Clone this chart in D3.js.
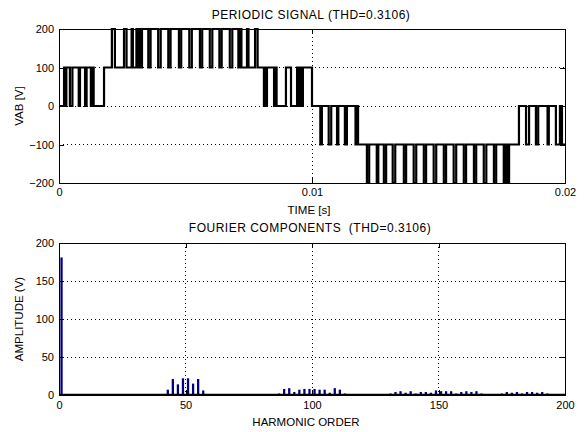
<!DOCTYPE html>
<html>
<head>
<meta charset="utf-8">
<script src="https://cdn.jsdelivr.net/npm/d3@7"></script>
<style>
  body { margin: 0; background: #fff; }
  svg text { font-family: "Liberation Sans", Arial, sans-serif; fill: #000; }
</style>
</head>
<body>
<svg id="chart" width="586" height="432"></svg>
<script>
// switching instants of the inverter output (ms) and the level taken at each one
const switchTimes = [
  0.00, 0.20, 0.25, 0.29, 0.43, 0.53, 0.78, 0.83, 1.03, 1.09, 1.26, 1.32, 1.37, 1.78,
  2.09, 2.21, 2.57, 2.67, 2.87, 2.92, 3.06, 3.12, 3.16, 3.24, 3.28, 3.53, 3.62, 3.92,
  4.02, 4.32, 4.41, 4.74, 4.83, 5.15, 5.25, 5.57, 5.66, 5.96, 6.06, 6.34, 6.43, 6.75,
  6.85, 7.09, 7.15, 7.21, 7.43, 7.49, 7.75, 7.85, 8.10, 8.14, 8.18, 8.22, 8.50, 8.56,
  8.60, 8.97, 9.17, 9.41, 9.47, 9.53, 9.58, 9.64, 10.00, 10.33, 10.39, 10.66, 10.76,
  10.99, 11.04, 11.30, 11.38, 11.72, 11.77, 11.82, 12.17, 12.26, 12.56, 12.62, 12.84,
  12.93, 13.19, 13.29, 13.63, 13.72, 14.02, 14.12, 14.42, 14.51, 14.81, 14.91, 15.21,
  15.30, 15.60, 15.70, 16.00, 16.09, 16.40, 16.49, 16.79, 16.89, 17.19, 17.28, 17.58,
  17.65, 17.71, 17.79, 18.18, 18.46, 18.58, 18.85, 18.94, 19.31, 19.36, 19.64, 19.80,
  19.88, 20.00
]
const switchLevels = [
  0, 100, 0, 100, 0, 100, 0, 100, 0, 100, 0, 100, 0, 100,
  200, 100, 200, 100, 200, 100, 200, 100, 200, 100, 200, 100, 200, 100,
  200, 100, 200, 100, 200, 100, 200, 100, 200, 100, 200, 100, 200, 100,
  200, 100, 200, 100, 200, 100, 200, 100, 0, 100, 0, 100, 0, 100,
  0, 100, 0, 100, 0, 100, 0, 100, 0, -100, 0, -100, 0,
  -100, 0, -100, 0, -100, 0, -100, -200, -100, -200, -100, -200,
  -100, -200, -100, -200, -100, -200, -100, -200, -100, -200, -100, -200,
  -100, -200, -100, -200, -100, -200, -100, -200, -100, -200, -100, -200,
  -100, -200, -100, 0, -100, 0, -100, 0, -100, 0, -100, 0,
  -100, -100
]

// fourier spectrum
const harmonicOrders = [
  1, 43, 45, 47, 49, 51, 53, 55, 57,
  87, 89, 91, 93, 95, 97, 99, 101, 103, 105, 107, 109, 111, 113,
  131, 133, 135, 137, 139, 141, 143, 145, 147, 149, 151, 153, 155, 157, 159, 161, 163, 165, 167,
  175, 177, 179, 181, 183, 185, 187, 189, 191, 193
]
const harmonicAmps = [
  181, 7, 21, 14, 22, 22, 15, 21, 6,
  2, 8, 9, 4, 7, 8, 8, 8, 7, 7, 3, 9, 7, 2,
  2, 4, 5, 3, 5, 2, 4, 4, 3, 6, 5, 5, 5, 2, 4, 5, 4, 5, 2,
  2, 4, 3, 4, 2, 4, 4, 3, 4, 2
]

const timeTicks = [0, 0.01, 0.02]
const voltTicks = [-200, -100, 0, 100, 200]
const orderTicks = [0, 50, 100, 150, 200]
const ampTicks = [0, 50, 100, 150, 200]

const svg = d3.select('#chart')
const left = 59
const right = 565

// dotted grid on the inner ticks
function grid (g, x, y, xt, yt, top, bottom) {
  const gr = g.append('g')
  xt.slice(1, -1).forEach(function (t) {
    gr.append('line').attr('x1', x(t)).attr('x2', x(t)).attr('y1', top).attr('y2', bottom)
  })
  yt.slice(1, -1).forEach(function (t) {
    gr.append('line').attr('x1', left).attr('x2', right).attr('y1', y(t)).attr('y2', y(t))
  })
  gr.selectAll('line').attr('stroke', '#000').attr('stroke-width', 1)
    .attr('stroke-dasharray', '1,3').attr('shape-rendering', 'crispEdges')
}

// box with inward ticks on all four sides
function axes (g, x, y, xt, yt, xfmt, top, bottom, pad) {
  g.append('g').attr('transform', 'translate(0,' + bottom + ')')
    .call(d3.axisBottom(x).tickValues(xt).tickSize(-5).tickPadding(pad).tickFormat(xfmt))
  g.append('g').attr('transform', 'translate(0,' + top + ')')
    .call(d3.axisTop(x).tickValues(xt).tickSize(-5).tickFormat(''))
  g.append('g').attr('transform', 'translate(' + left + ',0)')
    .call(d3.axisLeft(y).tickValues(yt).tickSize(-5).tickPadding(5))
  g.append('g').attr('transform', 'translate(' + right + ',0)')
    .call(d3.axisRight(y).tickValues(yt).tickSize(-5).tickFormat(''))
  g.selectAll('.domain').remove()
  g.selectAll('.tick line').attr('stroke', '#000').attr('shape-rendering', 'crispEdges')
  g.selectAll('.tick text').attr('font-size', 11).attr('font-family', '"Liberation Sans", Arial, sans-serif')
  g.append('rect').attr('x', left + 0.5).attr('y', top + 0.5)
    .attr('width', right - left).attr('height', bottom - top)
    .attr('fill', 'none').attr('stroke', '#000').attr('shape-rendering', 'crispEdges')
}

// ---- top: periodic signal
const x1 = d3.scaleLinear().domain([0, 0.02]).range([left, right])
const y1 = d3.scaleLinear().domain([-200, 200]).range([183, 29])
const g1 = svg.append('g')
grid(g1, x1, y1, timeTicks, voltTicks, 29, 183)

const pts = switchTimes.map(function (t, i) { return { t: t / 1000, v: switchLevels[i] } })
g1.append('path').datum(pts)
  .attr('d', d3.line().x(function (d) { return x1(d.t) }).y(function (d) { return y1(d.v) }).curve(d3.curveStepAfter))
  .attr('fill', 'none').attr('stroke', '#000').attr('stroke-width', 2.2)

axes(g1, x1, y1, timeTicks, voltTicks, function (d) { return d === 0 ? '0' : d3.format('.2f')(d) }, 29, 183, 5)

// ---- bottom: fourier components
const x2 = d3.scaleLinear().domain([0, 200]).range([left, right])
const y2 = d3.scaleLinear().domain([0, 200]).range([395, 243])
const g2 = svg.append('g')
grid(g2, x2, y2, orderTicks, ampTicks, 243, 395)

g2.selectAll('rect.bar').data(harmonicOrders).enter().append('rect')
  .attr('class', 'bar')
  .attr('x', function (d) { return x2(d - 0.45) })
  .attr('width', function (d) { return x2(d + 0.45) - x2(d - 0.45) })
  .attr('y', function (d, i) { return y2(harmonicAmps[i]) })
  .attr('height', function (d, i) { return y2(0) - y2(harmonicAmps[i]) })
  .attr('fill', '#000080')

g2.append('line').attr('x1', left).attr('x2', right).attr('y1', 394.5).attr('y2', 394.5)
  .attr('stroke', '#000').attr('stroke-width', 1.5)

axes(g2, x2, y2, orderTicks, ampTicks, d3.format('d'), 243, 395, 6)

// ---- titles and labels
function label (txt, x, y, size, rot) {
  const t = svg.append('text').text(txt).attr('font-size', size).attr('text-anchor', 'middle')
  if (rot) t.attr('transform', 'translate(' + x + ',' + y + ') rotate(-90)')
  else t.attr('x', x).attr('y', y)
  return t
}
label('PERIODIC SIGNAL (THD=0.3106)', 311, 19, 12).attr('letter-spacing', 0.5)
label('TIME [s]', 309, 214, 11.5)
label('FOURIER COMPONENTS  (THD=0.3106)', 310, 232, 12).attr('letter-spacing', 0.5).style('white-space', 'pre')
label('HARMONIC ORDER', 306, 426, 11.5)
label('VAB [V]', 23, 106, 11.5, true)
label('AMPLITUDE (V)', 23, 319, 11.5, true)
</script>
</body>
</html>
